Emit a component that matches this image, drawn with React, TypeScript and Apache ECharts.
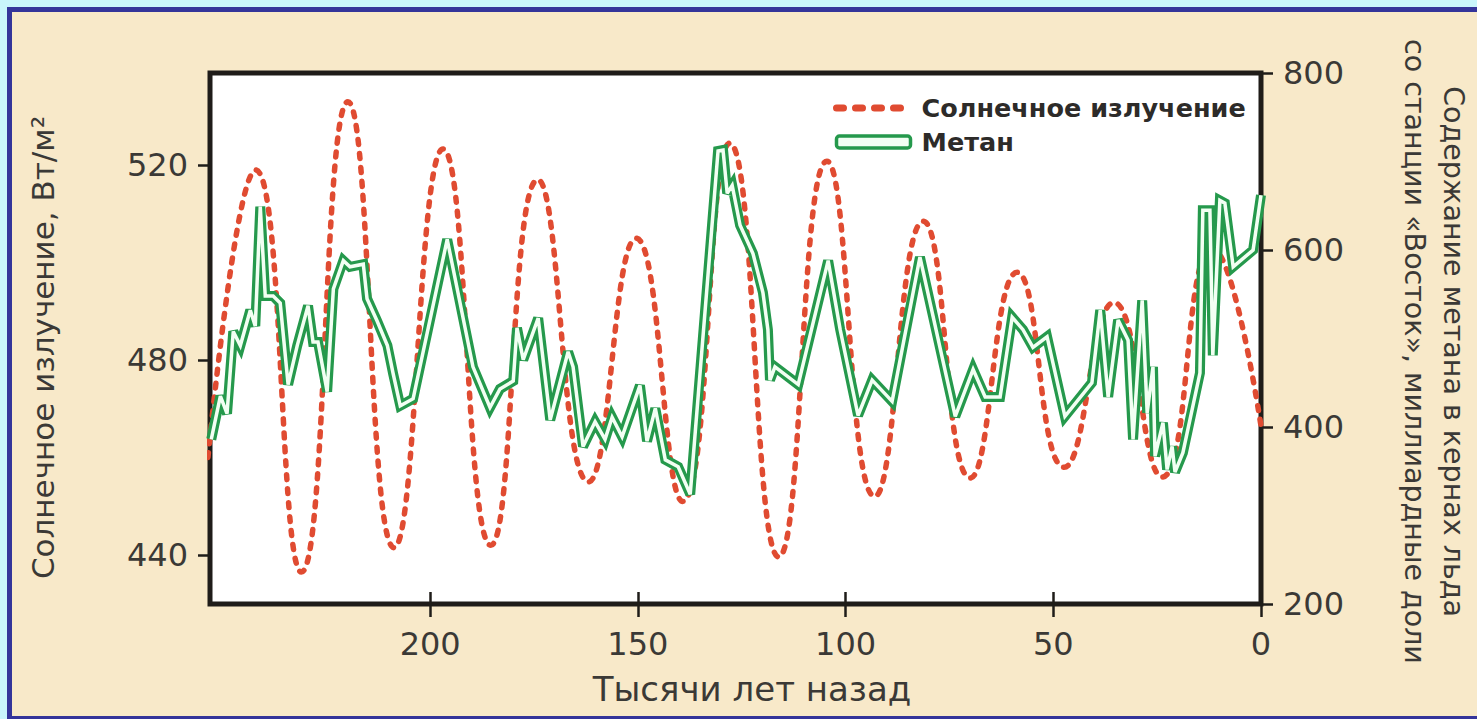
import React, { useEffect, useRef } from "react";
import * as echarts from "echarts";

// Solar insolation (W/m²), age in thousand years ago
const solarAge = [253.5, 242.0, 231.0, 219.8, 208.7, 196.9, 185.4, 174.1, 161.9, 150.4, 139.2, 127.9, 116.1, 104.5, 93.0, 81.3, 70.0, 58.7, 47.4, 35.4, 23.8, 11.8, 0];
const solarValue = [460, 519, 436.5, 533, 441.5, 523.3, 442, 517, 455, 505, 451, 524.5, 439.6, 520.8, 452, 508.5, 455.8, 498, 458, 491.8, 456, 503, 466.5];

// Methane (ppb), age in thousand years ago
const methaneAge = [
  252.7, 250.5, 248.9, 247.4, 245.7, 243.3, 242.1, 240.9, 239.7, 237.8,
  236.1, 234.2, 232.0, 229.4, 228.2, 227.0, 224.8, 223.3, 220.9, 219.3,
  216.1, 215.2, 212.8, 210.3, 208.9, 207.2, 204.1, 195.9, 189.7, 185.6,
  183.2, 180.0, 179.1, 177.6, 174.0, 171.1, 166.8, 165.6, 163.2, 160.3,
  157.9, 156.2, 153.8, 149.5, 147.8, 145.8, 143.4, 140.3, 137.4, 130.7,
  129.5, 128.5, 127.3, 125.4, 122.3, 119.9, 118.7, 118.2, 117.0, 111.4,
  104.2, 101.3, 97.0, 93.6, 88.8, 82.1, 73.6, 69.3, 66.4, 62.8,
  59.9, 57.3, 54.9, 51.5, 47.2, 40.7, 38.7, 36.8, 34.4, 32.0,
  30.8, 28.6, 27.4, 26.0, 25.5, 23.6, 22.6, 21.4, 20.7, 18.8,
  14.7, 14.0, 12.3, 11.6, 9.9, 8.7, 6.7, 1.9, 0,
];
const methaneValue = [
  386, 435, 415, 508, 492, 532, 514, 649, 548, 548,
  540, 448, 492, 537, 496, 496, 440, 556, 588, 581,
  584, 545, 520, 492, 460, 424, 432, 612, 468, 422,
  443, 452, 512, 476, 523, 408, 485, 468, 378, 406,
  386, 411, 389, 447, 384, 421, 363, 355, 324, 712,
  713, 664, 673, 628, 596, 552, 510, 453, 468, 448,
  588, 510, 413, 453, 429, 592, 412, 465, 434, 434,
  524, 510, 490, 502, 412, 450, 532, 434, 521, 498,
  386, 543, 416, 468, 367, 405, 352, 378, 349, 371,
  461, 645, 645, 481, 656, 653, 581, 600, 662,
];

const xTicks = [0, 50, 100, 150, 200];
const leftTicks = [440, 480, 520];

const solarName = "Солнечное излучение";
const methaneName = "Метан";
const xTitle = "Тысячи лет назад";
const leftTitle = "Солнечное излучение, Вт/м²";
const rightTitle = "Содержание метана в кернах льда\nсо станции «Восток», миллиардные доли";

export default function App() {
  const ref = useRef<HTMLDivElement>(null);
  useEffect(() => {
    const chart = echarts.init(ref.current as HTMLDivElement, null, { renderer: "svg" });
    const solar = solarAge.map((a, i) => [a, solarValue[i]]);
    const methane = methaneAge.map((a, i) => [a, methaneValue[i]]);
    const ink = "#1f1c19";
    const labelColor = "#3b3936";
    const font = "DejaVu Sans";
    const red = "#e04b31";
    const green = "#25994c";
    const tickLine = { color: ink, width: 2.5 };
    const noLine = { show: false, onZero: false };
    chart.setOption({
      animation: false,
      textStyle: { fontFamily: font },
      grid: {
        left: 210,
        right: 216,
        top: 73,
        bottom: 115,
        show: true,
        containLabel: false,
        outerBoundsMode: "none",
        backgroundColor: "#ffffff",
        borderColor: ink,
        borderWidth: 5,
      },
      legend: {
        orient: "vertical",
        left: 828,
        top: 89,
        itemWidth: 74,
        itemHeight: 12,
        itemGap: 6,
        selectedMode: false,
        textStyle: {
          fontFamily: font,
          fontWeight: "bold",
          fontSize: 25.5,
          color: "#2d2b29",
          padding: [0, 0, 0, 6],
          lineHeight: 28,
        },
        data: [
          {
            name: solarName,
            itemStyle: { opacity: 0 },
            lineStyle: { color: red, width: 7, type: [7, 12], cap: "round" },
          },
          {
            name: methaneName,
            icon: "roundRect",
            itemStyle: { color: "#f2fff3", borderColor: green, borderWidth: 3.5 },
          },
        ],
      },
      xAxis: [
        {
          type: "value",
          min: 0,
          max: 253,
          inverse: true,
          position: "bottom",
          axisLine: noLine,
          splitLine: { show: false },
          axisTick: { show: true, customValues: xTicks, length: 13, lineStyle: tickLine },
          axisLabel: { customValues: xTicks, margin: 24, fontSize: 32, color: labelColor, fontFamily: font },
          name: xTitle,
          nameLocation: "middle",
          nameGap: 68,
          nameTextStyle: { fontSize: 34, color: labelColor, fontFamily: font, padding: [0, 0, 0, 33] },
        },
        {
          type: "value",
          min: 0,
          max: 253,
          inverse: true,
          position: "bottom",
          axisLine: noLine,
          splitLine: { show: false },
          axisTick: { show: true, inside: true, customValues: xTicks, length: 12, lineStyle: tickLine },
          axisLabel: { show: false },
        },
      ],
      yAxis: [
        {
          type: "value",
          min: 429.95,
          max: 538.9,
          position: "left",
          axisLine: noLine,
          splitLine: { show: false },
          axisTick: { show: true, customValues: leftTicks, length: 12, lineStyle: tickLine },
          axisLabel: { customValues: leftTicks, margin: 22, fontSize: 32, color: labelColor, fontFamily: font },
          name: leftTitle,
          nameLocation: "middle",
          nameRotate: 90,
          nameGap: 152,
          nameTextStyle: { fontSize: 31, color: labelColor, fontFamily: font, padding: [0, 18, 0, 0] },
        },
        {
          type: "value",
          min: 200,
          max: 800,
          interval: 200,
          position: "right",
          axisLine: noLine,
          splitLine: { show: false },
          axisTick: { show: true, length: 12, lineStyle: tickLine },
          axisLabel: { margin: 22, fontSize: 32, color: labelColor, fontFamily: font },
          name: rightTitle,
          nameLocation: "middle",
          nameRotate: -90,
          nameGap: 134,
          nameTextStyle: { fontSize: 28.5, color: labelColor, fontFamily: font, lineHeight: 39, padding: [0, 0, 0, 26] },
        },
      ],
      series: [
        {
          name: solarName,
          type: "line",
          xAxisIndex: 0,
          yAxisIndex: 0,
          data: solar,
          smooth: 0.5,
          symbol: "none",
          itemStyle: { color: red },
          lineStyle: { color: red, width: 5.5, type: [5, 9], cap: "round" },
          z: 2,
        },
        {
          name: methaneName,
          type: "line",
          xAxisIndex: 0,
          yAxisIndex: 1,
          data: methane,
          symbol: "none",
          itemStyle: { color: green },
          lineStyle: { color: green, width: 10, join: "miter", miterLimit: 3 },
          z: 3,
        },
        {
          name: "Метан (середина линии)",
          type: "line",
          xAxisIndex: 0,
          yAxisIndex: 1,
          data: methane,
          symbol: "none",
          silent: true,
          itemStyle: { color: "#f2fff3" },
          lineStyle: { color: "#f2fff3", width: 3.5, join: "miter", miterLimit: 3 },
          z: 4,
        },
      ],
    });
    return () => chart.dispose();
  }, []);
  return (
    <div style={{ position: "fixed", left: 0, top: 0, width: 1477, height: 719, background: "#c9f5fb", overflow: "hidden" }}>
      <div
        style={{
          position: "absolute",
          left: 7,
          top: 7,
          right: 0,
          bottom: 0,
          background: "#f8e9c9",
          borderLeft: "5px solid #34349a",
          borderTop: "5px solid #34349a",
          borderBottom: "3px solid #34349a",
          boxSizing: "border-box",
        }}
      />
      <div ref={ref} style={{ position: "absolute", left: 0, top: 0, width: 1477, height: 719 }} />
    </div>
  );
}
